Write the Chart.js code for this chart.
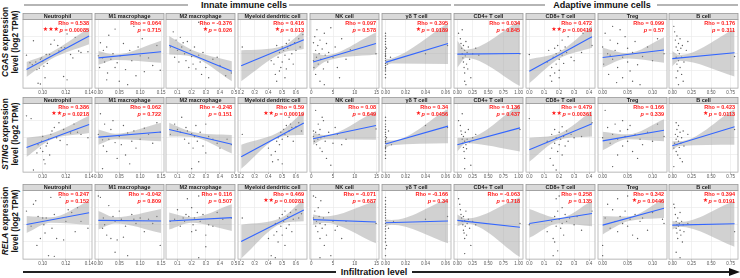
<!DOCTYPE html>
<html>
<head>
<meta charset="utf-8">
<script src="https://cdn.jsdelivr.net/npm/chart.js@4.4.0/dist/chart.umd.min.js"></script>
<style>
body{margin:0;background:#fff;width:740px;height:278px;position:relative;overflow:hidden;font-family:"Liberation Sans",Arial,sans-serif}
canvas{position:absolute}
.hd{position:absolute;font-weight:bold;font-size:9px;line-height:10px;white-space:nowrap;color:#111;transform:translateX(-50%)}
.ln{position:absolute;background:#b5b5b5;height:1.5px}
.ylab{position:absolute;font-weight:bold;font-size:8.3px;line-height:10px;white-space:nowrap;text-align:center;transform:translate(-50%,-50%) rotate(-90deg);color:#111}
.arrow{position:absolute;width:0;height:0;border-top:4.5px solid transparent;border-bottom:4.5px solid transparent;border-left:11px solid #111}
</style>
</head>
<body>

<div class="ln" style="left:24px;top:4px;width:164px"></div>
<div class="hd" style="left:244px;top:0px">Innate immune cells</div>
<div class="ln" style="left:289px;top:4px;width:162px"></div>
<div class="ln" style="left:454px;top:4px;width:91px"></div>
<div class="hd" style="left:602px;top:0px">Adaptive immune cells</div>
<div class="ln" style="left:657px;top:4px;width:81px"></div>

<div class="ylab" style="left:10px;top:42px"><i>CGAS</i> expression<br>level (log2 TPM)</div>
<div class="ylab" style="left:10px;top:134px"><i>STING</i> expression<br>level (log2 TPM)</div>
<div class="ylab" style="left:10px;top:221px"><i>RELA</i> expression<br>level (log2 TPM)</div>

<div class="ln" style="left:23px;top:271px;width:313px;background:#222"></div>
<div class="hd" style="left:374px;top:267px">Infiltration level</div>
<div class="ln" style="left:412px;top:271px;width:318px;background:#222"></div>
<div class="arrow" style="left:729px;top:267.5px"></div>

<script>
// columns (cell types) and rows (genes)
var cellTypes = ["Neutrophil", "M1 macrophage", "M2 macrophage", "Myeloid dendritic cell", "NK cell",
	"\u03b3\u03b4 T cell", "CD4+ T cell", "CD8+ T cell", "Treg", "B cell"];
var genes = ["CGAS", "STING", "RELA"];

var xMin = [0.083, -0.008, 0.019, 0.179, -0.3, -0.0035, -0.054, -0.022, -0.0093, -0.042];
var xMax = [0.1425, 0.157, 0.506, 0.68, 15.6, 0.0655, 1.07, 0.44, 0.129, 0.844];
var xTicks = [
	[0.10, 0.12, 0.14],
	[0.00, 0.05, 0.10, 0.15],
	[0.1, 0.2, 0.3, 0.4, 0.5],
	[0.2, 0.3, 0.4, 0.5, 0.6],
	[0, 5, 10, 15],
	[0.00, 0.02, 0.04, 0.06],
	[0.00, 0.25, 0.50, 0.75, 1.00],
	[0.0, 0.1, 0.2, 0.3, 0.4],
	[0.00, 0.05, 0.10],
	[0.00, 0.25, 0.50, 0.75]
];
var tickDigits = [2, 2, 1, 1, 0, 2, 2, 1, 2, 2];

// correlation labels
var rhoText = [
	["0.538", "0.064", "-0.376", "0.416", "0.097", "0.395", "0.034", "0.472", "0.099", "0.176"],
	["0.386", "0.062", "-0.248", "0.59", "0.08", "0.34", "0.136", "0.479", "0.166", "0.423"],
	["0.247", "-0.042", "0.116", "0.469", "-0.071", "-0.166", "-0.063", "0.258", "0.342", "0.394"]
];
var pText = [
	["0.00085", "0.715", "0.026", "0.013", "0.578", "0.0189", "0.845", "0.00419", "0.57", "0.311"],
	["0.0218", "0.722", "0.151", "0.00019", "0.649", "0.0456", "0.437", "0.00361", "0.339", "0.0113"],
	["0.152", "0.809", "0.507", "0.00281", "0.687", "0.34", "0.718", "0.135", "0.0446", "0.0191"]
];
var starText = [
	["\u2605\u2605\u2605", "", "\u2605", "\u2605", "", "\u2605", "", "\u2605\u2605", "", ""],
	["\u2605\u2605", "", "", "\u2605\u2605", "", "\u2605", "", "\u2605\u2605", "", "\u2605"],
	["", "", "", "\u2605\u2605", "", "", "", "", "\u2605", "\u2605"]
];

// smooth (lm) band: x at data min, mean, data max
var fitX = [
	[0.086, 0.107, 0.140], [0, 0.04, 0.15], [0.041, 0.2, 0.484], [0.202, 0.5, 0.657], [0.4, 3, 14.9],
	[0, 0.006, 0.0625], [0, 0.14, 1.02], [0, 0.2, 0.42], [0, 0.05, 0.123], [0, 0.09, 0.8]
];
var cgasLo = [[16,42,64],[34,41,37],[49,46,10],[10,51,57],[25,38,49],[33,36,35],[30,44,3],[7,43,59],[30,43,37],[32,40,17]];
var cgasHi = [[38,52,88],[54,49,69],[76,56,39],[55,61,84],[51,48,81],[42,43,95],[69,56,98],[42,53,91],[59,51,74],[54,48,86]];
var stingLo = [[22,47,57],[40,48,45],[52,51,27],[5,52,54],[40,48,47],[35,39,42],[30,42,30],[15,47,52],[32,48,45],[32,38,40]];
var stingHi = [[50,56,82],[62,56,72],[72,59,54],[40,61,89],[57,54,89],[47,46,92],[50,50,99],[50,56,89],[59,55,77],[45,45,92]];
var relaLo = [[38,53,50],[43,52,38],[43,53,41],[1,52,55],[50,53,23],[48,50,23],[48,52,3],[31,52,48],[36,55,60],[43,47,18]];
var relaHi = [[63,61,85],[70,61,73],[68,61,80],[50,61,88],[65,62,85],[58,57,88],[65,59,90],[73,60,85],[63,62,88],[56,54,85]];

// scatter points [infiltration, expression]
var cgasPoints = [
	[[0.086,48],[0.089,37],[0.091,34],[0.092,69],[0.094,38],[0.096,7],[0.097,29],[0.098,6],[0.098,42],[0.099,44],[0.100,39],[0.101,32],[0.102,15],[0.103,49],[0.106,49],[0.107,64],[0.113,62],[0.114,54],[0.116,59],[0.119,59],[0.121,79],[0.121,12],[0.124,49],[0.126,44],[0.128,74],[0.131,54],[0.133,52],[0.139,53],[0.118,17],[0.110,70],[0.095,27],[0.104,36]],
	[[0.00,47],[0.003,30],[0.005,66],[0.01,44],[0.012,55],[0.015,38],[0.02,60],[0.022,22],[0.025,77],[0.03,42],[0.035,50],[0.04,86],[0.045,37],[0.05,10],[0.052,47],[0.06,65],[0.065,27],[0.07,5],[0.075,55],[0.08,40],[0.085,90],[0.09,18],[0.095,60],[0.1,47],[0.105,72],[0.11,24],[0.12,44],[0.13,33],[0.14,62],[0.148,26],[0.02,12],[0.04,30]],
	[[0.05,60],[0.07,82],[0.08,45],[0.09,70],[0.1,55],[0.11,38],[0.12,74],[0.13,60],[0.14,66],[0.15,50],[0.16,40],[0.17,68],[0.18,30],[0.19,55],[0.2,46],[0.21,35],[0.22,60],[0.23,28],[0.25,48],[0.26,38],[0.27,20],[0.28,52],[0.3,30],[0.32,15],[0.35,42],[0.38,45],[0.4,33],[0.44,18],[0.48,22],[0.25,96]],
	[[0.21,60],[0.42,40],[0.44,35],[0.45,20],[0.46,10],[0.47,45],[0.48,52],[0.49,30],[0.5,60],[0.5,38],[0.51,55],[0.52,48],[0.53,65],[0.53,28],[0.54,58],[0.55,42],[0.55,70],[0.56,62],[0.57,50],[0.58,35],[0.59,66],[0.6,55],[0.62,72],[0.63,60],[0.65,78],[0.46,62],[0.48,25],[0.52,15]],
	[[0.5,66],[0.5,40],[0.6,30],[0.8,75],[1,55],[1,20],[1.2,45],[1.3,85],[1.5,62],[1.6,35],[1.8,50],[2,70],[2,10],[2.2,42],[2.5,57],[2.8,28],[3,80],[3.2,48],[3.5,65],[3.8,38],[4,52],[4.5,88],[5,45],[5.5,60],[6,30],[7,72],[8,42],[9,56],[14.9,50],[3,5],[6.5,15]],
	[[0,20],[0,25],[0,30],[0,33],[0,36],[0,40],[0,43],[0,46],[0,50],[0,53],[0,56],[0,60],[0,64],[0,68],[0,72],[0,76],[0,15],[0,80],[0,28],[0,48],[0.001,58],[0.002,35],[0.005,45],[0.04,50],[0.062,62]],
	[[0.02,80],[0.05,72],[0.06,65],[0.07,58],[0.08,50],[0.09,44],[0.1,62],[0.1,38],[0.11,30],[0.12,55],[0.12,22],[0.13,47],[0.14,68],[0.15,35],[0.16,52],[0.17,28],[0.18,60],[0.2,42],[0.22,15],[0.12,10],[0.25,50],[0.08,85],[0.14,5],[0.3,58],[0.35,48],[1.02,50]],
	[[0.0,49],[0.12,38],[0.14,18],[0.15,10],[0.15,30],[0.16,45],[0.17,22],[0.17,58],[0.18,50],[0.18,35],[0.19,62],[0.2,42],[0.2,26],[0.21,55],[0.22,70],[0.22,48],[0.23,36],[0.24,60],[0.25,52],[0.26,75],[0.28,45],[0.3,40],[0.35,52],[0.36,80],[0.42,62],[0.13,55],[0.2,15]],
	[[0.0,60],[0.002,35],[0.005,80],[0.01,50],[0.012,20],[0.015,70],[0.02,42],[0.02,90],[0.025,55],[0.03,30],[0.03,65],[0.035,85],[0.04,45],[0.04,15],[0.045,75],[0.05,58],[0.05,38],[0.055,25],[0.06,10],[0.06,52],[0.065,68],[0.07,34],[0.075,5],[0.08,46],[0.09,60],[0.1,40],[0.123,50],[0.11,72],[0.028,8],[0.015,48]],
	[[0.02,90],[0.03,82],[0.04,70],[0.05,60],[0.05,45],[0.06,35],[0.06,76],[0.07,55],[0.07,25],[0.08,65],[0.08,40],[0.09,50],[0.1,30],[0.1,72],[0.11,58],[0.12,20],[0.12,45],[0.13,62],[0.14,10],[0.15,38],[0.05,15],[0.08,5],[0.18,55],[0.2,68],[0.8,46]]
];
var stingPoints = [
	[[0.086,82],[0.09,78],[0.095,28],[0.096,40],[0.098,35],[0.099,45],[0.1,30],[0.1,52],[0.101,18],[0.102,12],[0.103,38],[0.104,42],[0.105,48],[0.107,55],[0.108,60],[0.11,65],[0.112,50],[0.115,46],[0.118,62],[0.121,40],[0.124,57],[0.127,70],[0.13,58],[0.133,55],[0.139,50],[0.092,3],[0.106,25],[0.114,72]],
	[[0.0,55],[0.005,85],[0.01,47],[0.012,38],[0.015,70],[0.02,30],[0.025,48],[0.03,62],[0.035,75],[0.04,43],[0.045,20],[0.05,52],[0.055,40],[0.06,68],[0.065,25],[0.07,57],[0.075,12],[0.08,45],[0.085,60],[0.09,35],[0.1,48],[0.11,64],[0.12,55],[0.13,42],[0.14,72],[0.148,58],[0.01,5]],
	[[0.05,55],[0.08,70],[0.1,62],[0.12,58],[0.13,80],[0.15,48],[0.16,65],[0.17,60],[0.18,42],[0.2,56],[0.21,35],[0.22,52],[0.23,68],[0.24,45],[0.26,58],[0.28,38],[0.3,28],[0.32,52],[0.35,48],[0.38,42],[0.4,35],[0.45,48],[0.48,40],[0.2,5],[0.25,15],[0.3,70]],
	[[0.21,55],[0.4,35],[0.42,25],[0.43,15],[0.45,30],[0.46,45],[0.47,50],[0.48,40],[0.49,58],[0.5,48],[0.51,62],[0.52,55],[0.53,68],[0.54,52],[0.55,60],[0.56,70],[0.57,65],[0.58,45],[0.6,66],[0.62,72],[0.64,60],[0.5,12],[0.47,18],[0.55,80]],
	[[0.5,60],[0.5,52],[0.7,45],[1,90],[1,58],[1.2,40],[1.5,48],[1.6,70],[1.8,55],[2,35],[2,62],[2.2,50],[2.5,30],[2.8,75],[3,52],[3.2,45],[3.5,20],[4,58],[4.5,10],[5,42],[5.5,65],[6,55],[7,40],[8,48],[14.9,63],[2.5,80]],
	[[0,20],[0,25],[0,30],[0,34],[0,38],[0,42],[0,45],[0,48],[0,52],[0,55],[0,58],[0,62],[0,66],[0,70],[0,75],[0,80],[0,44],[0,36],[0.001,50],[0.003,60],[0.006,40],[0.04,68],[0.062,65]],
	[[0.02,75],[0.05,68],[0.06,60],[0.07,55],[0.08,48],[0.09,42],[0.1,52],[0.1,36],[0.11,30],[0.12,45],[0.12,20],[0.13,58],[0.14,40],[0.15,34],[0.16,48],[0.18,62],[0.2,44],[0.22,10],[0.12,5],[0.25,50],[0.3,55],[0.08,85],[1.02,62]],
	[[0.0,78],[0.12,45],[0.14,20],[0.15,35],[0.15,55],[0.16,10],[0.17,42],[0.17,62],[0.18,50],[0.19,30],[0.2,58],[0.2,40],[0.21,48],[0.22,66],[0.23,52],[0.24,38],[0.25,60],[0.26,45],[0.28,55],[0.3,50],[0.35,52],[0.42,72],[0.18,3],[0.22,25]],
	[[0.0,50],[0.005,90],[0.01,65],[0.015,42],[0.02,55],[0.025,70],[0.03,48],[0.035,60],[0.04,38],[0.04,75],[0.045,52],[0.05,62],[0.05,45],[0.055,68],[0.06,30],[0.065,55],[0.07,20],[0.075,48],[0.08,40],[0.09,58],[0.1,45],[0.123,52],[0.11,70],[0.03,25],[0.02,8]],
	[[0.02,35],[0.03,42],[0.04,55],[0.05,48],[0.05,30],[0.06,62],[0.06,40],[0.07,52],[0.07,25],[0.08,45],[0.08,68],[0.09,36],[0.1,58],[0.1,20],[0.11,42],[0.12,50],[0.13,15],[0.14,60],[0.15,38],[0.02,8],[0.2,55],[0.05,72],[0.8,62]]
];
var relaPoints = [
	[[0.086,70],[0.09,48],[0.092,80],[0.095,20],[0.096,62],[0.098,30],[0.1,60],[0.101,50],[0.102,38],[0.103,60],[0.105,5],[0.107,90],[0.108,45],[0.11,65],[0.112,30],[0.115,90],[0.118,28],[0.12,55],[0.122,72],[0.125,68],[0.128,40],[0.13,75],[0.133,55],[0.139,45],[0.094,85],[0.11,4]],
	[[0.0,92],[0.005,90],[0.01,45],[0.012,60],[0.015,50],[0.02,35],[0.025,78],[0.03,30],[0.035,62],[0.04,55],[0.045,28],[0.05,70],[0.055,58],[0.06,32],[0.065,48],[0.07,5],[0.08,65],[0.085,58],[0.09,52],[0.1,60],[0.11,40],[0.12,58],[0.13,52],[0.14,62],[0.148,20],[0.04,10]],
	[[0.05,55],[0.08,58],[0.1,72],[0.12,48],[0.14,60],[0.15,55],[0.16,65],[0.17,88],[0.18,62],[0.2,75],[0.21,50],[0.22,60],[0.23,42],[0.24,68],[0.25,92],[0.26,55],[0.28,65],[0.3,35],[0.32,50],[0.35,48],[0.38,68],[0.42,58],[0.48,60],[0.2,40],[0.3,18],[0.25,2]],
	[[0.21,60],[0.4,30],[0.42,5],[0.44,35],[0.45,52],[0.46,40],[0.47,25],[0.48,60],[0.49,48],[0.5,65],[0.5,35],[0.51,55],[0.52,70],[0.53,45],[0.54,62],[0.55,50],[0.56,68],[0.57,40],[0.58,58],[0.6,72],[0.62,60],[0.64,66],[0.45,2],[0.52,20]],
	[[0.5,92],[0.5,60],[0.8,70],[1,90],[1,48],[1.2,55],[1.5,40],[1.6,75],[1.8,62],[2,30],[2,52],[2.2,85],[2.5,45],[2.8,60],[3,20],[3.2,50],[3.5,35],[4,68],[4.5,5],[5,55],[5.5,42],[6,48],[7,30],[8,55],[14.9,52],[2,2]],
	[[0,15],[0,25],[0,30],[0,35],[0,40],[0,44],[0,48],[0,52],[0,56],[0,60],[0,64],[0,68],[0,72],[0,76],[0,80],[0,85],[0,90],[0,5],[0.001,20],[0.003,45],[0.008,55],[0.04,58],[0.062,62]],
	[[0.02,88],[0.04,80],[0.05,72],[0.06,65],[0.07,60],[0.08,55],[0.09,50],[0.1,62],[0.1,42],[0.11,38],[0.12,56],[0.12,30],[0.13,48],[0.14,70],[0.15,35],[0.16,52],[0.18,58],[0.2,45],[0.22,20],[0.12,8],[0.25,55],[0.3,50],[1.02,52]],
	[[0.0,50],[0.12,40],[0.15,55],[0.16,30],[0.17,25],[0.17,62],[0.18,48],[0.18,88],[0.19,70],[0.2,58],[0.2,92],[0.21,45],[0.22,52],[0.22,75],[0.23,35],[0.24,65],[0.25,55],[0.27,60],[0.3,50],[0.32,62],[0.35,42],[0.42,70],[0.16,5],[0.19,12]],
	[[0.0,20],[0.0,5],[0.005,60],[0.01,80],[0.015,45],[0.02,72],[0.025,55],[0.03,88],[0.03,40],[0.035,62],[0.04,52],[0.045,70],[0.05,48],[0.05,92],[0.055,58],[0.06,35],[0.065,65],[0.07,30],[0.075,55],[0.08,60],[0.09,42],[0.1,68],[0.12,58],[0.123,52]],
	[[0.02,80],[0.03,75],[0.04,65],[0.05,55],[0.05,45],[0.06,50],[0.06,38],[0.07,60],[0.07,30],[0.08,48],[0.09,52],[0.1,42],[0.1,68],[0.11,35],[0.12,55],[0.13,25],[0.14,50],[0.15,40],[0.05,10],[0.1,2],[0.2,52],[0.8,40]]
];

var rowPoints = [cgasPoints, stingPoints, relaPoints];
var rowLo = [cgasLo, stingLo, relaLo];
var rowHi = [cgasHi, stingHi, relaHi];

var colLeft = [23, 95, 166, 237.5, 310, 382, 454, 526, 597.5, 669];
var rowTop = [13, 97, 184];
var PAD = 4;

var panelPlugin = {
	id: 'panel',
	afterDraw: function(chart, args, opts){
		var a = chart.chartArea, ctx = chart.ctx;
		var w = a.right - a.left, h = a.bottom - a.top;
		ctx.save();
		// border
		ctx.strokeStyle = '#b0b0b0';
		ctx.lineWidth = 0.8;
		ctx.strokeRect(a.left, a.top, w, h);
		// strip
		ctx.fillStyle = '#d9d9d9';
		ctx.fillRect(a.left, 0.5, w, a.top - 0.5);
		ctx.strokeStyle = '#9a9a9a';
		ctx.strokeRect(a.left, 0.5, w, a.top - 0.5);
		ctx.fillStyle = '#1a1a1a';
		ctx.font = 'bold 5.5px "Liberation Sans"';
		ctx.textAlign = 'center';
		ctx.textBaseline = 'middle';
		ctx.fillText(opts.title, a.left + w / 2, a.top / 2 + 0.6);
		// rho / p text
		var rx = a.right - 3;
		ctx.fillStyle = '#ff1a1a';
		ctx.textAlign = 'right';
		ctx.fillText('Rho = ' + opts.rho, rx, a.top + 4.4);
		var rest = '= ' + opts.p;
		ctx.fillText(rest, rx, a.top + 10.6);
		var w1 = ctx.measureText(rest).width;
		ctx.font = 'italic bold 5.5px "Liberation Sans"';
		ctx.fillText('p ', rx - w1, a.top + 10.6);
		var w2 = ctx.measureText('p ').width;
		if (opts.stars) {
			ctx.font = 'bold 6px "DejaVu Sans"';
			ctx.fillText(opts.stars, rx - w1 - w2 - 0.5, a.top + 10.4);
		}
		ctx.restore();
	}
};

function toXY(arr){
	return arr.map(function(p){ return {x: p[0], y: p[1]}; });
}

function makePanel(r, c){
	var cv = document.createElement('canvas');
	cv.width = 69 + PAD * 2;
	cv.height = 83;
	cv.style.left = (colLeft[c] - PAD) + 'px';
	cv.style.top = rowTop[r] + 'px';
	document.body.appendChild(cv);

	var fx = fitX[c], lo = rowLo[r][c], hi = rowHi[r][c];
	var upper = [], lower = [];
	for (var i = 0; i < fx.length; i++) {
		upper.push({x: fx[i], y: hi[i]});
		lower.push({x: fx[i], y: lo[i]});
	}
	var fit = [
		{x: fx[0], y: (lo[0] + hi[0]) / 2},
		{x: fx[2], y: (lo[2] + hi[2]) / 2}
	];
	var ticks = xTicks[c], digits = tickDigits[c];

	new Chart(cv, {
		type: 'scatter',
		data: {
			datasets: [
				{ data: fit, showLine: true, borderColor: '#3366ff', borderWidth: 1.1, pointRadius: 0, order: 0 },
				{ data: upper, showLine: true, borderWidth: 0, borderColor: 'rgba(0,0,0,0)', pointRadius: 0,
					cubicInterpolationMode: 'monotone', fill: '+1', backgroundColor: 'rgba(153,153,153,0.45)', order: 1 },
				{ data: lower, showLine: true, borderWidth: 0, borderColor: 'rgba(0,0,0,0)', pointRadius: 0,
					cubicInterpolationMode: 'monotone', fill: false, order: 1 },
				{ data: toXY(rowPoints[r][c]), pointRadius: 0.7, pointBorderWidth: 0,
					pointBackgroundColor: 'rgba(40,40,40,0.75)', order: 2 }
			]
		},
		options: {
			responsive: false,
			animation: false,
			events: [],
			devicePixelRatio: 1,
			layout: { padding: { top: 6.5, left: PAD, right: PAD, bottom: 0 } },
			plugins: {
				legend: { display: false },
				tooltip: { enabled: false },
				panel: { title: cellTypes[c], rho: rhoText[r][c], p: pText[r][c], stars: starText[r][c] }
			},
			scales: {
				x: {
					type: 'linear', min: xMin[c], max: xMax[c],
					afterBuildTicks: function(axis){
						axis.ticks = ticks.map(function(v){ return {value: v}; });
					},
					ticks: {
						autoSkip: false, maxRotation: 0, padding: 0.5,
						font: { size: 4.5, family: 'Liberation Sans' }, color: '#555',
						callback: function(v){ return Number(v).toFixed(digits); }
					},
					grid: { color: '#e8e8e8', lineWidth: 0.6, tickLength: 1.5, tickColor: '#444', tickWidth: 0.6 },
					border: { display: false }
				},
				y: {
					min: 0, max: 100,
					ticks: { display: false, stepSize: 25 },
					grid: { color: '#e8e8e8', lineWidth: 0.6, drawTicks: false },
					border: { display: false }
				}
			}
		},
		plugins: [panelPlugin]
	});
}

for (var r = 0; r < genes.length; r++) {
	for (var c = 0; c < cellTypes.length; c++) {
		makePanel(r, c);
	}
}
</script>
</body>
</html>
